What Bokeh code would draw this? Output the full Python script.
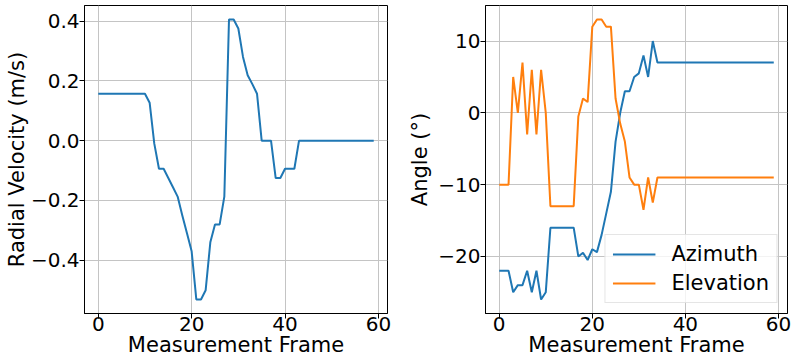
from bokeh.plotting import figure
from bokeh.layouts import row
from bokeh.models import FixedTicker, Legend, LegendItem
from bokeh.embed import file_html
from bokeh.resources import INLINE

# Per-frame measurements
frames = list(range(60))

radial_velocity = [
    0.157, 0.157, 0.157, 0.157, 0.157, 0.157, 0.157, 0.157, 0.157, 0.157,
    0.157, 0.127, -0.01, -0.094, -0.094, -0.125, -0.156, -0.187, -0.25, -0.31,
    -0.37, -0.531, -0.531, -0.5, -0.34, -0.28, -0.28, -0.187, 0.405, 0.405,
    0.375, 0.28, 0.219, 0.189, 0.157, 0.0, 0.0, 0.0, -0.125, -0.125,
    -0.094, -0.094, -0.094, 0.0, 0.0, 0.0, 0.0, 0.0, 0.0, 0.0,
    0.0, 0.0, 0.0, 0.0, 0.0, 0.0, 0.0, 0.0, 0.0, 0.0,
]

azimuth = [
    -22, -22, -22, -25, -24, -24, -22, -25, -22, -26,
    -25, -16, -16, -16, -16, -16, -16, -20, -19.5, -20.5,
    -19, -19.4, -17, -14, -11, -4, 0, 3, 3, 5,
    5.5, 8, 5, 10, 7, 7, 7, 7, 7, 7,
    7, 7, 7, 7, 7, 7, 7, 7, 7, 7,
    7, 7, 7, 7, 7, 7, 7, 7, 7, 7,
]

elevation = [
    -10, -10, -10, 5, 0, 7, -3, 6, -3, 6,
    0, -13, -13, -13, -13, -13, -13, -0.5, 2, 1.5,
    12, 13, 13, 12, 12, 2, -1.5, -4, -9, -10,
    -10, -13.5, -9, -12.5, -9, -9, -9, -9, -9, -9,
    -9, -9, -9, -9, -9, -9, -9, -9, -9, -9,
    -9, -9, -9, -9, -9, -9, -9, -9, -9, -9,
]

x_ticks = [0, 20, 40, 60]
rv_ticks = [-0.4, -0.2, 0.0, 0.2, 0.4]
angle_ticks = [-20, -10, 0, 10]

FONT = "DejaVu Sans"
TICK_SIZE = "20px"
LABEL_SIZE = "21px"
BLUE = "#1f77b4"
ORANGE = "#ff7f0e"
GRID = "#c4c4c4"


def style(p, yticks, ylabels, ylabel, y_label_standoff):
    p.outline_line_color = "black"
    p.outline_line_width = 1
    for ax in (p.xaxis[0], p.yaxis[0]):
        ax.axis_line_color = "black"
        ax.major_tick_line_color = "black"
        ax.major_tick_out = 5
        ax.major_tick_in = 0
        ax.minor_tick_line_color = None
        ax.major_label_text_font = FONT
        ax.major_label_text_font_size = TICK_SIZE
        ax.major_label_text_color = "black"
        ax.axis_label_text_font = FONT
        ax.axis_label_text_font_size = LABEL_SIZE
        ax.axis_label_text_font_style = "normal"
        ax.axis_label_text_color = "black"
    p.xaxis[0].major_label_standoff = -2
    p.xaxis[0].axis_label_standoff = -1
    p.yaxis[0].major_label_standoff = 0
    p.yaxis[0].axis_label_standoff = y_label_standoff
    p.xaxis[0].ticker = FixedTicker(ticks=x_ticks)
    p.xaxis[0].axis_label = "Measurement Frame"
    p.yaxis[0].ticker = FixedTicker(ticks=yticks)
    p.yaxis[0].major_label_overrides = ylabels
    p.yaxis[0].axis_label = ylabel
    p.xgrid.grid_line_color = GRID
    p.ygrid.grid_line_color = GRID
    p.xgrid.grid_line_width = 1
    p.ygrid.grid_line_width = 1
    p.background_fill_color = "white"
    p.border_fill_color = "white"


def fmt(v, digits):
    return f"{v:.{digits}f}".replace("-", "\u2212")


p1 = figure(width=400, height=363, output_backend="svg", toolbar_location=None,
            x_range=(-2.95, 61.95), y_range=(-0.578, 0.452),
            min_border_left=84, min_border_right=13, min_border_top=5, min_border_bottom=50)
p1.line(frames, radial_velocity, line_color=BLUE, line_width=2)
style(p1, rv_ticks, {v: fmt(v, 1) for v in rv_ticks}, "Radial Velocity (m/s)", -1)

p2 = figure(width=391, height=363, output_backend="svg", toolbar_location=None,
            x_range=(-2.95, 61.95), y_range=(-27.95, 14.95),
            min_border_left=85, min_border_right=4, min_border_top=5, min_border_bottom=50)
r_az = p2.line(frames, azimuth, line_color=BLUE, line_width=2)
r_el = p2.line(frames, elevation, line_color=ORANGE, line_width=2)
style(p2, angle_ticks, {v: fmt(v, 0) for v in angle_ticks}, "Angle (°)", 3)

legend = Legend(items=[LegendItem(label="Azimuth", renderers=[r_az]),
                       LegendItem(label="Elevation", renderers=[r_el])],
                location="bottom_right")
legend.label_text_font = FONT
legend.label_text_font_size = LABEL_SIZE
legend.label_text_color = "black"
legend.glyph_width = 43
legend.glyph_height = 24
legend.label_height = 24
legend.label_standoff = 16
legend.spacing = 5
legend.padding = 7
legend.margin = 10
legend.border_line_color = "#cccccc"
legend.border_line_width = 1
legend.background_fill_alpha = 0.8
p2.add_layout(legend)

layout = row(p1, p2)
open("out.html", "w").write(file_html(layout, INLINE))
